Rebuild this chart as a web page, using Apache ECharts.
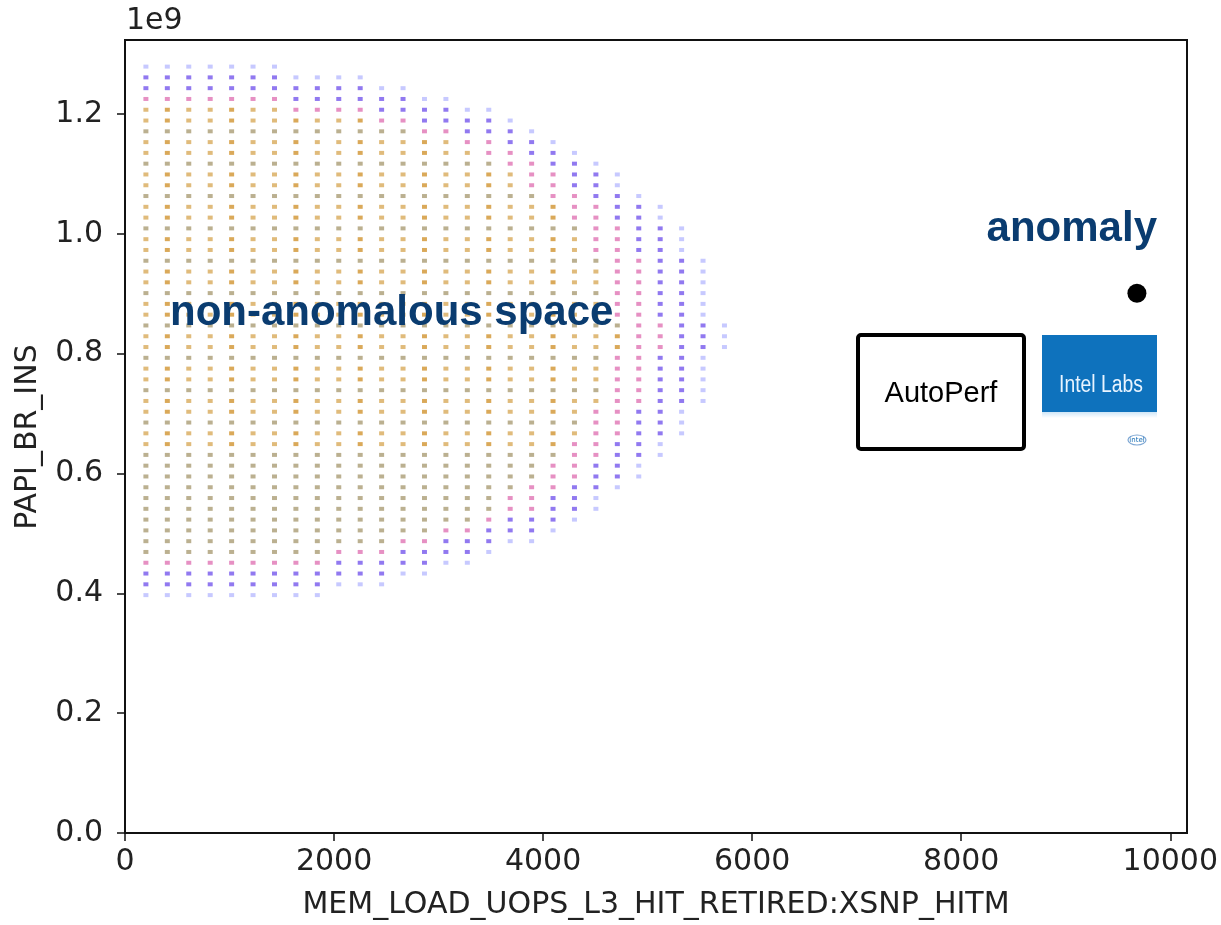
<!DOCTYPE html>
<html>
<head>
<meta charset="utf-8">
<script src="https://cdn.jsdelivr.net/npm/echarts@6/dist/echarts.min.js"></script>
<style>
  html, body { margin: 0; padding: 0; background: #fff; }
  #chart { width: 1221px; height: 925px; }
</style>
</head>
<body>
<div id="chart"></div>
<script>
// Sampled grid of counter values (x: MEM_LOAD_UOPS_L3_HIT_RETIRED:XSNP_HITM)
const xCols = [200, 405, 610, 815, 1020, 1225, 1430, 1635, 1840, 2045, 2250, 2455, 2660, 2865,
  3070, 3275, 3480, 3685, 3890, 4095, 4300, 4505, 4710, 4915, 5120, 5325, 5530, 5735];

// PAPI_BR_INS rows, in units of 1e9, from top to bottom
const yRows = [1.279, 1.261, 1.243, 1.225, 1.207, 1.189, 1.171, 1.153, 1.135, 1.117,
  1.099, 1.081, 1.063, 1.045, 1.027, 1.009, 0.991, 0.973, 0.955, 0.937,
  0.919, 0.901, 0.883, 0.865, 0.847, 0.829, 0.811, 0.793, 0.775, 0.757,
  0.739, 0.721, 0.703, 0.685, 0.667, 0.649, 0.631, 0.613, 0.595, 0.577,
  0.559, 0.541, 0.523, 0.505, 0.487, 0.469, 0.451, 0.433, 0.415, 0.397];

// index of the last populated column in each row (same order as yRows)
const rowLast = [6, 10, 12, 14, 16, 17, 18, 19, 20, 21,
  22, 22, 23, 24, 24, 25, 25, 25, 26, 26,
  26, 26, 26, 26, 27, 27, 27, 26, 26, 26,
  26, 26, 25, 25, 25, 24, 24, 23, 23, 22,
  21, 21, 20, 19, 18, 16, 15, 13, 11, 8];

// the single anomalous measurement
const anomalyPoint = [9681, 0.9007];

// axis ticks
const xTicks = [0, 2000, 4000, 6000, 8000, 10000];
const yTicks = [0, 0.2, 0.4, 0.6, 0.8, 1.0, 1.2];

// ---- build the point cloud, colouring by distance to the cloud's edge ----
const palette = {
  edge: 'rgba(175,178,255,0.7)',
  ring: 'rgba(118,88,236,0.8)',
  pink: 'rgba(224,116,180,0.8)',
  tan: 'rgba(216,170,90,0.8)',
  tanDeep: 'rgba(212,154,60,0.85)',
  olive: 'rgba(170,156,116,0.8)'
};

function columnSpan(j) {
  let top = -1, bottom = -1;
  for (let i = 0; i < rowLast.length; i++) {
    if (rowLast[i] >= j) {
      if (top < 0) top = i;
      bottom = i;
    }
  }
  return [top, bottom];
}

const cloud = [];
for (let i = 0; i < yRows.length; i++) {
  for (let j = 0; j <= rowLast[i]; j++) {
    const span = columnSpan(j);
    const dh = rowLast[i] - j;
    const dv = Math.min(i - span[0], span[1] - i);
    const d = Math.min(dh, dv);
    let c;
    if (d === 0) c = palette.edge;
    else if (d <= 2) c = palette.ring;
    else if (d === 3 || (d === 4 && dh === 4)) c = palette.pink;
    else if (i % 3 === 0 || i >= 36) c = palette.olive;
    else c = (j % 3 === 1) ? palette.tanDeep : palette.tan;
    cloud.push({ value: [xCols[j], yRows[i]], itemStyle: { color: c } });
  }
}

const textColor = '#222';
const tickFont = 'DejaVu Sans';
const labelBlue = '#0a3c70';

const chart = echarts.init(document.getElementById('chart'), null, { renderer: 'canvas' });

chart.setOption({
  animation: false,
  backgroundColor: '#fff',
  grid: {
    left: 125, right: 34, top: 40, bottom: 92,
    show: true, borderColor: '#111', borderWidth: 2, backgroundColor: 'transparent'
  },
  xAxis: {
    type: 'value',
    min: 0, max: 10160, interval: 2000,
    splitLine: { show: false },
    axisLine: { show: true, onZero: false, lineStyle: { color: '#111', width: 2 } },
    axisTick: { show: true, length: 8, customValues: xTicks, lineStyle: { color: '#111', width: 1.5 } },
    axisLabel: {
      show: true, margin: 14, customValues: xTicks,
      color: textColor, fontFamily: tickFont, fontSize: 30,
      formatter: v => (xTicks.indexOf(v) >= 0 ? String(v) : '')
    }
  },
  yAxis: {
    type: 'value',
    min: 0, max: 1.3234, interval: 0.2,
    splitLine: { show: false },
    axisLine: { show: true, onZero: false, lineStyle: { color: '#111', width: 2 } },
    axisTick: { show: true, length: 8, customValues: yTicks, lineStyle: { color: '#111', width: 1.5 } },
    axisLabel: {
      show: true, margin: 22, customValues: yTicks,
      color: textColor, fontFamily: tickFont, fontSize: 30,
      formatter: v => (Math.abs(v * 5 - Math.round(v * 5)) < 1e-6 ? v.toFixed(1) : '')
    }
  },
  series: [
    {
      type: 'scatter',
      symbol: 'rect',
      symbolSize: [5, 4],
      data: cloud,
      silent: true,
      itemStyle: { opacity: 1 },
      z: 2
    },
    {
      type: 'scatter',
      symbol: 'circle',
      symbolSize: 19,
      data: [anomalyPoint],
      itemStyle: { color: '#000', opacity: 1 },
      silent: true,
      z: 3
    }
  ],
  graphic: [
    // exponent offset for the y axis
    { type: 'text', left: 126, top: 6, style: { text: '1e9', fill: textColor, font: '30px "DejaVu Sans"' } },
    // axis titles
    {
      type: 'text', x: 656, y: 905,
      style: { text: 'MEM_LOAD_UOPS_L3_HIT_RETIRED:XSNP_HITM', fill: textColor,
        font: '30px "DejaVu Sans"', align: 'center', verticalAlign: 'middle' }
    },
    {
      type: 'text', x: 28, y: 437, rotation: Math.PI / 2,
      style: { text: 'PAPI_BR_INS', fill: textColor,
        font: '30px "DejaVu Sans"', align: 'center', verticalAlign: 'middle' }
    },
    // region labels
    {
      type: 'text', x: 170, y: 313, z: 10,
      style: { text: 'non-anomalous space', fill: labelBlue,
        font: 'bold 42px "Liberation Sans"', align: 'left', verticalAlign: 'middle' }
    },
    {
      type: 'text', x: 1157, y: 229, z: 10,
      style: { text: 'anomaly', fill: labelBlue,
        font: 'bold 42px "Liberation Sans"', align: 'right', verticalAlign: 'middle' }
    },
    // AutoPerf box
    {
      type: 'rect', z: 10,
      shape: { x: 858, y: 335, width: 166, height: 114, r: 3 },
      style: { fill: '#fff', stroke: '#000', lineWidth: 4 }
    },
    {
      type: 'text', x: 941, y: 394, z: 11,
      style: { text: 'AutoPerf', fill: '#000', font: '29px "Liberation Sans"',
        align: 'center', verticalAlign: 'middle' }
    },
    // Intel Labs badge
    {
      type: 'rect', z: 10,
      shape: { x: 1042, y: 335, width: 115, height: 77 },
      style: { fill: '#0e72bd' }
    },
    {
      type: 'rect', z: 10,
      shape: { x: 1042, y: 412, width: 115, height: 6 },
      style: {
        fill: new echarts.graphic.LinearGradient(0, 0, 0, 1, [
          { offset: 0, color: '#cfe6f7' }, { offset: 1, color: '#ffffff' }
        ])
      }
    },
    {
      type: 'text', x: 1101, y: 386, z: 11, scaleX: 0.84,
      style: { text: 'Intel Labs', fill: '#e8f4ff',
        font: '23px "Liberation Sans"',
        align: 'center', verticalAlign: 'middle' }
    },
    {
      type: 'ellipse', z: 11,
      shape: { cx: 1137, cy: 440, rx: 9, ry: 5 },
      style: { fill: 'none', stroke: '#7fa8d4', lineWidth: 1.2 }
    },
    {
      type: 'text', x: 1137, y: 440, z: 12,
      style: { text: 'intel', fill: '#1a6fb5', font: '7px "DejaVu Sans"',
        align: 'center', verticalAlign: 'middle' }
    }
  ]
});
</script>
</body>
</html>
